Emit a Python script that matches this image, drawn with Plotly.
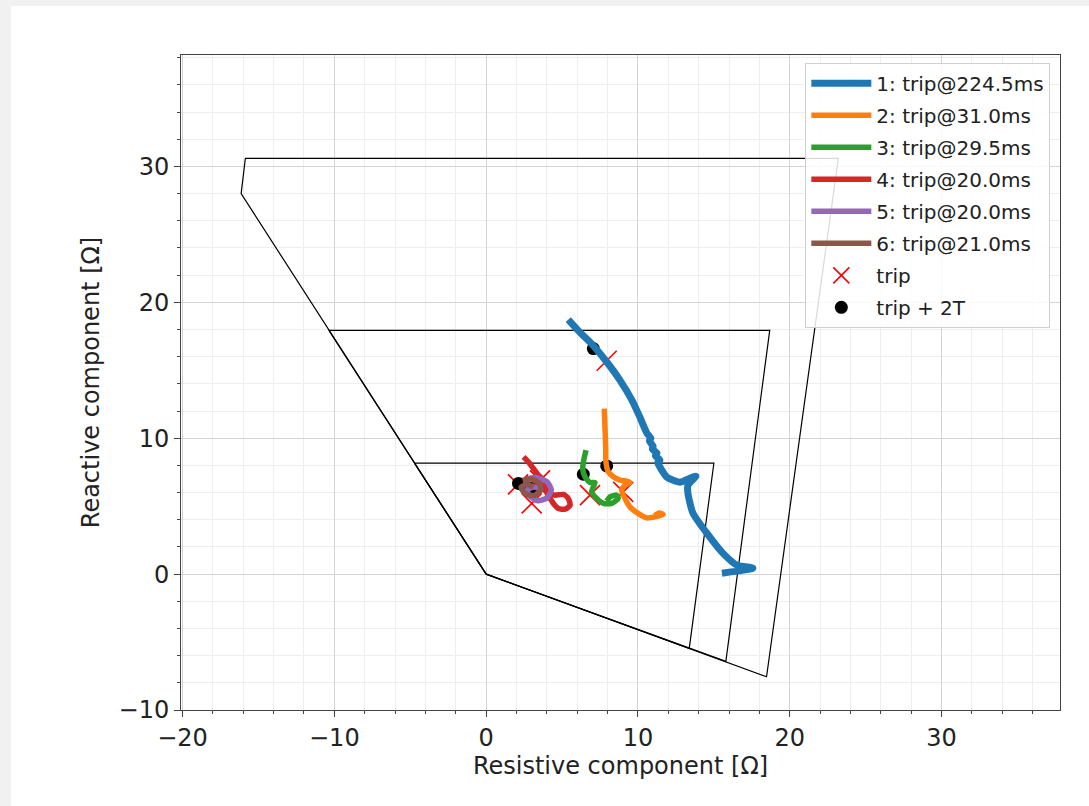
import plotly.graph_objects as go

# ---- data ----
zone1_x = [0, -4.72, 15.0, 13.38, 0]
zone1_y = [0, 8.16, 8.16, -5.47, 0]
zone2_x = [0, -10.36, 18.68, 15.79, 0]
zone2_y = [0, 17.94, 17.94, -6.42, 0]
zone3_x = [0, -16.14, -15.86, 23.2, 18.47, 0]
zone3_y = [0, 28.0, 30.6, 30.6, -7.55, 0]

names = ["1: trip@224.5ms", "2: trip@31.0ms", "3: trip@29.5ms",
         "4: trip@20.0ms", "5: trip@20.0ms", "6: trip@21.0ms"]
colors = ["#1f77b4", "#ff7f0e", "#2ca02c", "#d62728", "#9467bd", "#8c564b"]

traj1_x = [5.41, 6.18, 7.04, 7.96, 8.82, 9.61, 10.13, 10.59, 10.85, 10.75, 11.0, 10.95,
           11.25, 11.15, 11.45, 11.3, 11.45, 11.91, 12.76, 13.42, 13.82, 13.29, 13.29,
           13.62, 14.54, 15.59, 16.51, 17.57, 15.53]
traj1_y = [18.73, 17.79, 16.84, 15.59, 14.26, 12.79, 11.54, 10.37, 10.0, 9.8, 9.4, 9.2,
           8.9, 8.7, 8.4, 8.2, 7.87, 7.13, 6.76, 7.06, 7.21, 6.54, 5.96,
           4.49, 3.01, 1.54, 0.66, 0.44, 0.07]
traj2_x = [7.78, 7.83, 7.88, 7.89, 8.05, 8.38, 8.82, 9.26, 9.47, 9.14, 8.93, 9.14, 9.47,
           10.02, 10.57, 11.12, 11.66, 11.4, 11.1]
traj2_y = [12.18, 10.71, 9.24, 8.26, 7.52, 7.16, 6.91, 6.84, 6.74, 6.54, 6.18, 5.57, 4.95,
           4.46, 4.14, 4.21, 4.39, 4.5, 4.3]
traj3_x = [6.58, 6.45, 6.36, 6.51, 6.84, 7.17, 7.06, 6.95, 7.28, 7.72, 8.27, 8.70, 8.60,
           8.16, 7.94]
traj3_y = [9.12, 8.50, 7.77, 7.16, 6.74, 6.74, 6.42, 6.05, 5.57, 5.20, 5.20, 5.57, 5.81,
           5.68, 5.37]
traj4_x = [2.46, 2.78, 3.11, 3.44, 3.66, 3.99, 4.21, 4.54, 5.09, 5.41, 5.53, 5.20, 4.76,
           4.43, 4.21, 3.88, 3.44, 3.0]
traj4_y = [8.63, 8.26, 7.77, 7.28, 7.04, 6.42, 5.93, 5.81, 5.86, 5.57, 5.07, 4.78, 4.83,
           5.20, 5.57, 6.18, 6.42, 6.5]
traj5_x = [2.7, 3.3, 4.0, 4.3, 4.0, 3.4, 2.9, 2.7, 3.1, 3.5]
traj5_y = [7.0, 7.1, 6.8, 6.2, 5.6, 5.4, 5.7, 6.2, 6.4, 6.3]
traj6_x = [2.4, 3.0, 3.5, 3.6, 3.2, 2.6, 2.3, 2.7, 3.1]
traj6_y = [6.9, 7.0, 6.7, 6.2, 5.8, 5.9, 6.4, 6.6, 6.4]

trip_x = [7.94, 9.03, 6.84, 2.1, 3.55, 3.0]
trip_y = [15.7, 6.05, 5.81, 6.6, 6.9, 5.2]
trip2t_x = [7.06, 7.94, 6.40, 2.13, 2.5, 3.0]
trip2t_y = [16.6, 7.96, 7.35, 6.67, 6.5, 6.3]

xticks = [-20, -10, 0, 10, 20, 30]
yticks = [-10, 0, 10, 20, 30]

trajs = [(traj1_x, traj1_y), (traj2_x, traj2_y), (traj3_x, traj3_y),
         (traj4_x, traj4_y), (traj5_x, traj5_y), (traj6_x, traj6_y)]

fig = go.Figure()

for zx, zy in [(zone1_x, zone1_y), (zone2_x, zone2_y), (zone3_x, zone3_y)]:
    fig.add_trace(go.Scatter(x=zx, y=zy, mode="lines", line=dict(color="black", width=1.2),
                             showlegend=False, hoverinfo="skip"))

fig.add_trace(go.Scatter(x=trip_x, y=trip_y, mode="markers", name="trip",
                         marker=dict(symbol="x-thin", size=20, line=dict(color="red", width=1.6), color="red"),
                         legendrank=7, legendgroup="g7"))
fig.add_trace(go.Scatter(x=trip2t_x, y=trip2t_y, mode="markers", name="trip + 2T",
                         marker=dict(symbol="circle", size=13, color="black"),
                         legendrank=8, legendgroup="g8"))

for i, ((tx, ty), nm, c) in enumerate(zip(trajs, names, colors)):
    fig.add_trace(go.Scatter(x=tx, y=ty, mode="lines", name=nm,
                             line=dict(color=c, width=7 if i == 0 else 5.5, shape="spline", smoothing=0.6),
                             legendrank=i + 1, legendgroup=f"g{i+1}"))

axis_common = dict(
    showline=True, linecolor="#444", linewidth=1, mirror=True,
    ticks="outside", ticklen=6, tickcolor="#444",
    showgrid=True, gridcolor="#d4d4d4", gridwidth=1,
    zeroline=False,
    tickfont=dict(family="DejaVu Sans", size=24, color="#222"),
    minor=dict(dtick=2, showgrid=True, gridcolor="#eeeeee", ticks="outside", ticklen=3, tickcolor="#444"),
)

fig.update_layout(
    width=1089, height=806,
    margin=dict(l=181, r=29, t=55, b=96),
    paper_bgcolor="#f1f1f1", plot_bgcolor="white",
    font=dict(family="DejaVu Sans", color="#222"),
    xaxis=dict(range=[-20.1, 37.8], tickvals=xticks, ticktext=[str(v).replace("-", "\u2212") for v in xticks],
               title=dict(text="Resistive component [\u03a9]", font=dict(size=24), standoff=6), **axis_common),
    yaxis=dict(range=[-10, 38.2], tickvals=yticks, ticktext=[str(v).replace("-", "\u2212") for v in yticks],
               title=dict(text="Reactive component [\u03a9]", font=dict(size=24), standoff=12), **axis_common),
    legend=dict(x=0.989, y=0.988, xanchor="right", yanchor="top",
                bgcolor="rgba(255,255,255,0.85)", bordercolor="#d0d0d0", borderwidth=1,
                font=dict(family="DejaVu Sans", size=20, color="#222"),
                tracegroupgap=3, traceorder="grouped", itemwidth=60),
    shapes=[dict(type="rect", xref="paper", yref="paper", x0=-0.1934, x1=1.2, y0=-0.3, y1=1.0748,
                 fillcolor="white", line=dict(width=0), layer="below")],
    showlegend=True,
)

fig.write_html("out.html")
